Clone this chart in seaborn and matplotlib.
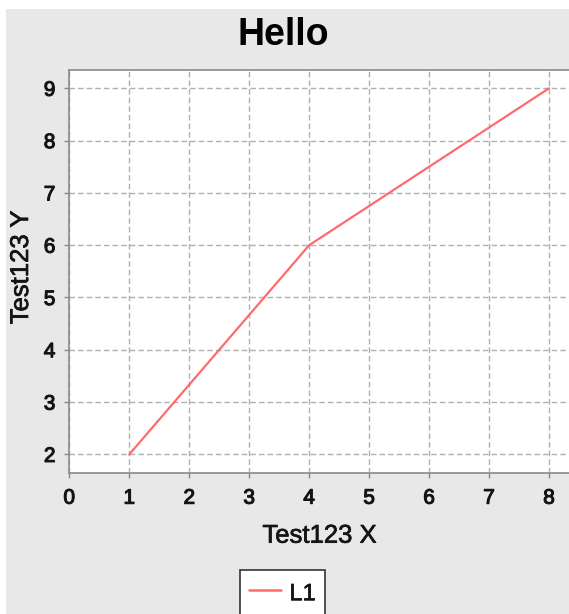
import matplotlib
matplotlib.use("Agg")
import matplotlib.pyplot as plt
import matplotlib.patheffects as pe
import pandas as pd
import seaborn as sns
from matplotlib.patches import Rectangle

# ── 数据 ──────────────────────────────────────────────────────────
x_vals = [1, 4, 8]
y_vals = [2, 6, 9]
series_name = "L1"
x_ticks = [0, 1, 2, 3, 4, 5, 6, 7, 8]
y_ticks = [2, 3, 4, 5, 6, 7, 8, 9]

title = "Hello"
x_label = "Test123 X"
y_label = "Test123 Y"

LINE_COLOR = "#ff6b6b"
BG_COLOR = "#e8e8e8"
SPINE_COLOR = "#8a8a8a"
GRID_COLOR = "#b0b0b0"
TEXT_COLOR = "#141414"

sns.set_theme(style="whitegrid")
plt.rcParams["font.family"] = ["Liberation Sans", "DejaVu Sans"]

W, H = 569, 614
fig = plt.figure(figsize=(W / 100, H / 100), dpi=100, facecolor="white")

# 灰色背景（左、上留白）
fig.patches.append(Rectangle((6 / W, 0), 1, 1 - 9 / H, transform=fig.transFigure,
                             facecolor=BG_COLOR, edgecolor="none", zorder=-10))

ax = fig.add_axes([69.3 / W, 1 - 472.7 / H, 500.7 / W, (472.7 - 70) / H])
ax.set_facecolor("white")

df = pd.DataFrame({"x": x_vals, "y": y_vals})
sns.lineplot(data=df, x="x", y="y", ax=ax, color=LINE_COLOR, linewidth=1.6,
             label=series_name, zorder=3)

ax.set_xlim(0, 8.35)
ax.set_ylim(1.65, 9.35)
ax.set_xticks(x_ticks)
ax.set_yticks(y_ticks)

ax.grid(True, color=GRID_COLOR, linestyle=(0, (4, 2.2)), linewidth=1.0)
for side in ["left", "bottom", "top", "right"]:
    ax.spines[side].set_color(SPINE_COLOR)
    ax.spines[side].set_linewidth(1.2)

ax.tick_params(axis="both", which="major", length=3.5, width=1, color=SPINE_COLOR,
               labelsize=15, labelcolor=TEXT_COLOR)
ax.tick_params(axis="x", pad=8, bottom=True)
ax.tick_params(axis="y", pad=6.5, left=True)

# 稍加粗文字（模拟原图的渲染效果）
heavy = [pe.withStroke(linewidth=0.8, foreground=TEXT_COLOR)]
for lbl in ax.get_xticklabels() + ax.get_yticklabels():
    lbl.set_path_effects(heavy)

ax.set_xlabel(x_label, fontsize=18.5, color=TEXT_COLOR)
ax.xaxis.set_label_coords(0.5, -(542.7 - 472.7) / 402.7)
ax.xaxis.label.set_va("baseline")
ax.set_ylabel(y_label, fontsize=18.5, color=TEXT_COLOR)
ax.yaxis.set_label_coords((21 - 69.3) / 500.7, 0.51)
ax.yaxis.label.set_va("center")
for lbl in [ax.xaxis.label, ax.yaxis.label]:
    lbl.set_path_effects([pe.withStroke(linewidth=0.5, foreground=TEXT_COLOR)])

fig.text(283.5 / W, 1 - 45 / H, title, ha="center", va="baseline",
         fontsize=27, fontweight="bold", color="black")

# ── 图例 ──────────────────────────────────────────────────────────
handles, labels = ax.get_legend_handles_labels()
ax.get_legend().remove()
leg = fig.legend(handles, labels, loc="upper center",
                 bbox_to_anchor=(282.5 / W, 1 - 570 / H),
                 fontsize=17, frameon=True, fancybox=False, shadow=False,
                 borderpad=0.4, handlelength=1.35, handletextpad=0.35,
                 handleheight=1.3, borderaxespad=0)
leg.get_frame().set_edgecolor("#333333")
leg.get_frame().set_linewidth(1.2)
leg.get_frame().set_facecolor("white")
leg.get_frame().set_alpha(1)
for t in leg.get_texts():
    t.set_color(TEXT_COLOR)
    t.set_path_effects([pe.withStroke(linewidth=0.5, foreground=TEXT_COLOR)])
for line in leg.get_lines():
    line.set_linewidth(1.8)

fig.savefig("out.png", dpi=100, facecolor="white")
